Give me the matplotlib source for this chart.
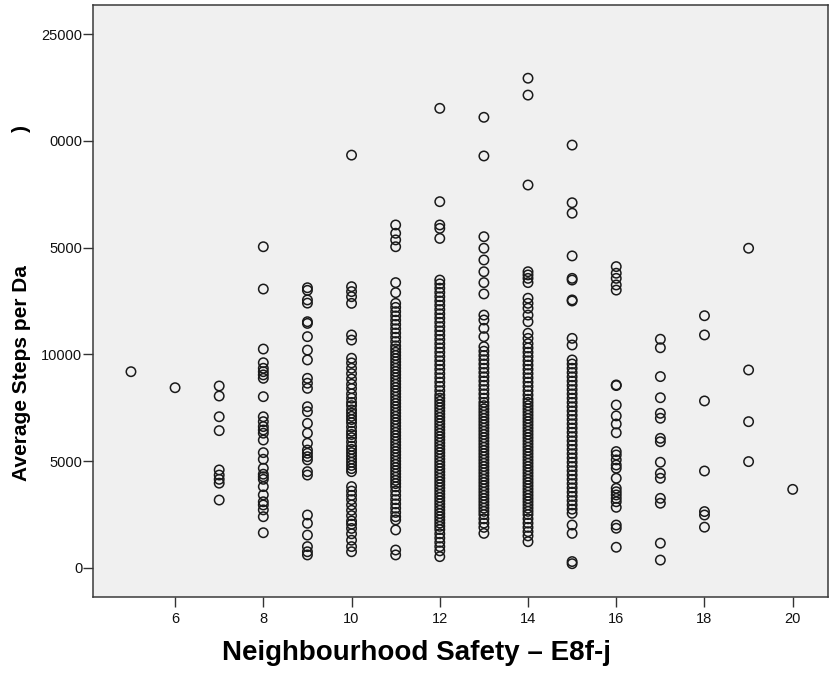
import matplotlib
matplotlib.use("Agg")
import matplotlib.pyplot as plt

plt.rcParams['font.family'] = ['Liberation Sans', 'DejaVu Sans']

# Neighbourhood safety score -> average steps per day values
safety_5 = [9190]
safety_6 = [8440]
safety_7 = [8520, 8050, 7080, 6430, 4590, 4350, 4150, 3970, 3180]
safety_8 = [15040, 13060, 10250, 9610, 9350, 9190, 9040, 8880, 8020, 7080, 6850,
            6620, 6460, 6310, 5990, 5400, 5090, 4670, 4390, 4270, 4150, 3810,
            3420, 3100, 2950, 2720, 2400, 1650]
safety_9 = [13120, 13000, 12550, 12400, 11530, 11450, 10830, 10200, 9740, 8880,
            8650, 8410, 7550, 7320, 6770, 6310, 5840, 5520, 5370, 5210, 5060,
            4510, 4350, 2480, 2090, 1540, 1000, 760, 610]
safety_10 = [19330, 13170, 12940, 12700, 12390, 10910, 10670, 9820, 9600, 9350,
             9100, 8850, 8600, 8400, 8150, 7950, 7750, 7600, 7400, 7250, 7100,
             6950, 6800, 6600, 6400, 6250, 6100, 5900, 5700, 5550, 5400, 5250,
             5100, 4950, 4800, 4650, 4510, 3810, 3600, 3400, 3200, 2950, 2700,
             2450, 2200, 2050, 1850, 1600, 1300, 1000, 760]
safety_11 = [16060, 15670, 15360, 15040, 13360, 12890, 12390, 12200, 12000, 11800,
             11600, 11400, 11200, 11000, 10800, 10600, 10400, 10250, 10100, 9950,
             9800, 9650, 9500, 9350, 9200, 9050, 8900, 8750, 8600, 8450, 8300,
             8150, 8000, 7850, 7700, 7550, 7400, 7250, 7100, 6950, 6800, 6650,
             6500, 6350, 6200, 6050, 5900, 5750, 5600, 5450, 5300, 5150, 5000,
             4850, 4700, 4550, 4400, 4250, 4100, 3950, 3800, 3600, 3400, 3200,
             3000, 2800, 2600, 2400, 2250, 1780, 840, 610]
safety_12 = [21520, 17150, 16060, 15900, 15430, 13480, 13300, 13100, 12900, 12700,
             12500, 12300, 12100, 11900, 11700, 11500, 11300, 11100, 10900, 10700,
             10500, 10300, 10100, 9900, 9700, 9500, 9300, 9100, 8900, 8700, 8500,
             8300, 8100, 7950, 7800, 7650, 7500, 7350, 7200, 7050, 6900, 6750,
             6600, 6450, 6300, 6150, 6000, 5850, 5700, 5550, 5400, 5250, 5100,
             4950, 4800, 4650, 4500, 4350, 4200, 4050, 3900, 3750, 3600, 3450,
             3300, 3150, 3000, 2850, 2700, 2550, 2400, 2250, 2100, 1950, 1800,
             1600, 1400, 1200, 1000, 800, 530]
safety_13 = [21100, 19290, 15510, 14970, 14420, 13870, 13360, 12830, 11840, 11610,
             11220, 10830, 10360, 10150, 9950, 9750, 9550, 9350, 9150, 8950, 8750,
             8550, 8350, 8150, 7950, 7750, 7600, 7450, 7300, 7150, 7000, 6850,
             6700, 6550, 6400, 6250, 6100, 5950, 5800, 5650, 5500, 5350, 5200,
             5050, 4900, 4750, 4600, 4450, 4300, 4150, 4000, 3850, 3700, 3550,
             3400, 3250, 3100, 2950, 2800, 2650, 2500, 2300, 2100, 1900, 1620]
safety_14 = [22930, 22140, 17930, 13870, 13720, 13560, 13360, 12630, 12390, 12160,
             11840, 11530, 10990, 10750, 10500, 10300, 10100, 9900, 9700, 9500,
             9300, 9100, 8900, 8700, 8500, 8300, 8100, 7900, 7750, 7600, 7450,
             7300, 7150, 7000, 6850, 6700, 6550, 6400, 6250, 6100, 5950, 5800,
             5650, 5500, 5350, 5200, 5050, 4900, 4750, 4600, 4450, 4300, 4150,
             4000, 3850, 3700, 3550, 3400, 3250, 3100, 2950, 2800, 2650, 2500,
             2300, 2100, 1900, 1700, 1500, 1230]
safety_15 = [19800, 17100, 16610, 14610, 13560, 13480, 12550, 12500, 10750, 10440,
             9740, 9550, 9350, 9150, 8950, 8750, 8550, 8350, 8150, 7950, 7750,
             7550, 7350, 7150, 6950, 6750, 6550, 6350, 6150, 5950, 5750, 5550,
             5350, 5150, 4950, 4750, 4550, 4350, 4150, 3950, 3750, 3550, 3350,
             3150, 2950, 2750, 2560, 2010, 1620, 300, 200]
safety_16 = [14110, 13800, 13560, 13250, 13010, 8570, 8540, 7630, 7120, 6740, 6330,
             5450, 5290, 5060, 4820, 4670, 4200, 3730, 3570, 3420, 3260, 3100,
             2840, 2010, 1860, 970]
safety_17 = [10710, 10310, 8960, 7970, 7240, 7010, 6070, 5910, 4950, 4430, 4200,
             3260, 3030, 1160, 370]
safety_18 = [11810, 10910, 7820, 4540, 2640, 2480, 1910]
safety_19 = [14970, 9270, 6850, 4980]
safety_20 = [3680]

groups = {5: safety_5, 6: safety_6, 7: safety_7, 8: safety_8, 9: safety_9,
          10: safety_10, 11: safety_11, 12: safety_12, 13: safety_13,
          14: safety_14, 15: safety_15, 16: safety_16, 17: safety_17,
          18: safety_18, 19: safety_19, 20: safety_20}

x_ticks = [6, 8, 10, 12, 14, 16, 18, 20]
y_ticks = [0, 5000, 10000, 15000, 20000, 25000]
y_tick_labels = ["0", "5000", "10000", "5000", "0000", "25000"]

fig = plt.figure(figsize=(8.33, 6.76), dpi=100)
ax = fig.add_axes([0.1122, 0.1169, 0.8818, 0.8757])
ax.set_facecolor('#F0F0F0')

xs, ys = [], []
for k, vals in groups.items():
    xs.extend([k] * len(vals))
    ys.extend(vals)
ax.scatter(xs, ys, s=46, facecolors='none', edgecolors='#1a1a1a',
           linewidths=1.1, zorder=3)

ax.set_xlim(4.15, 20.8)
ax.set_ylim(-1358, 26358)
ax.set_xticks(x_ticks)
ax.set_xticklabels([str(v) for v in x_ticks])
ax.set_yticks(y_ticks)
ax.set_yticklabels(y_tick_labels)
ax.tick_params(axis='both', direction='out', length=7, width=1,
               color='#333333', labelsize=10.5, labelcolor='#111111')
ax.tick_params(axis='y', pad=1)
ax.tick_params(axis='x', pad=4)
for sp in ax.spines.values():
    sp.set_color('#3a3a3a')
    sp.set_linewidth(1.1)

fig.text(0.5, 0.024, "Neighbourhood Safety \u2013 E8f-j", ha='center',
         va='baseline', fontsize=20, fontweight='bold', color='black')
fig.text(0.026, 1 - 373 / 676, "Average Steps per Da", rotation=90,
         ha='center', va='center', fontsize=15, fontweight='bold', color='black')
fig.text(0.026, 1 - 128 / 676, ")", rotation=90,
         ha='center', va='center', fontsize=15, fontweight='bold', color='black')

fig.savefig("out.png", dpi=100)
